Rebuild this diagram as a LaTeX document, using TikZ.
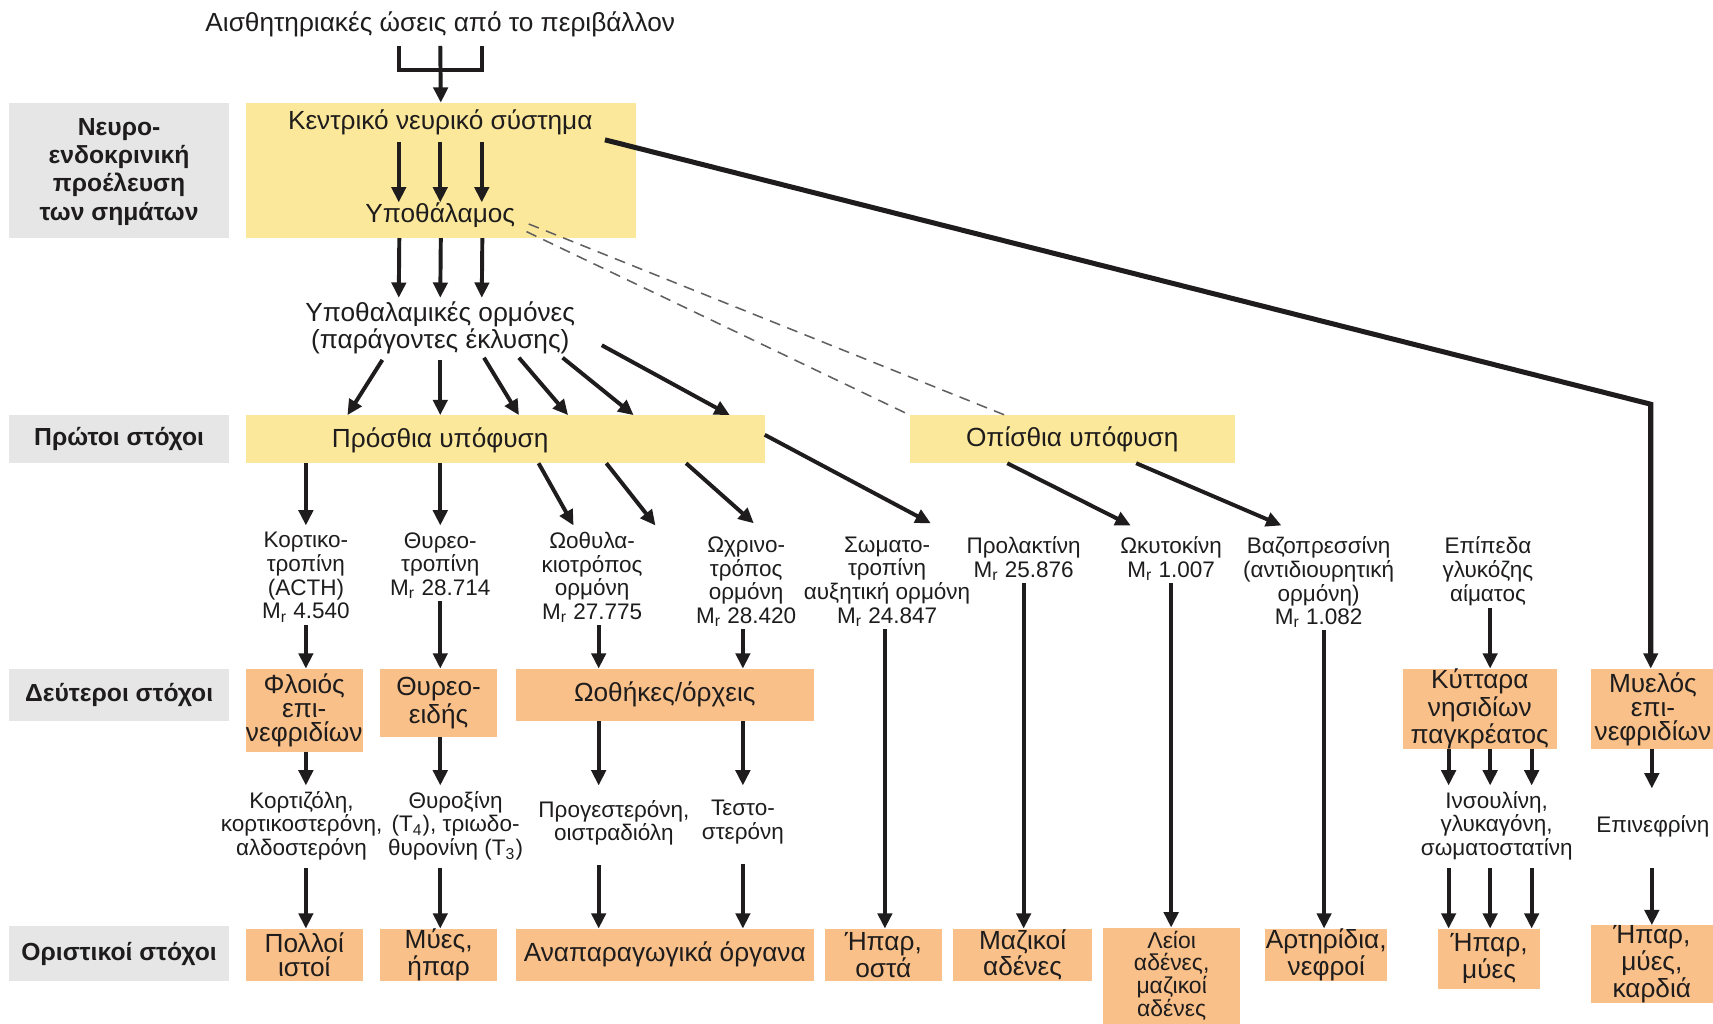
\documentclass[tikz,border=0pt]{standalone}
\usepackage{fontspec}
\setmainfont{Liberation Sans}
\usetikzlibrary{arrows.meta}
\definecolor{ylw}{RGB}{252,232,155}
\definecolor{org}{RGB}{249,192,137}
\definecolor{gry}{RGB}{230,230,230}
\definecolor{ink}{RGB}{30,28,28}
\begin{document}
\begin{tikzpicture}[x=0.5pt,y=-0.5pt,
 box/.style={inner sep=0pt, outer sep=0pt, align=center, text=ink},
 ybox/.style={box, fill=ylw},
 obox/.style={box, fill=org, font=\fontsize{12}{11}\selectfont},
 gbox/.style={box, fill=gry, font=\bfseries\fontsize{11.3}{13}\selectfont},
 big/.style={inner sep=0pt, align=center, text=ink, font=\fontsize{12}{12.5}\selectfont},
 small/.style={inner sep=0pt, align=center, text=ink, font=\fontsize{10.3}{10.8}\selectfont},
 arr/.style={draw=ink, line width=1.8pt, -{Triangle[length=7pt,width=6.5pt]}},
 ln/.style={draw=ink, line width=1.8pt},
 dsh/.style={draw=ink!70, line width=0.7pt, dash pattern=on 5pt off 3.5pt}]
\useasboundingbox (0,0) rectangle (1568,937);
\fill[white] (0,0) rectangle (1568,937);
% columns
\coordinate (cA) at (280,0);
\coordinate (cB) at (403,0);
\coordinate (cC) at (548,0);
\coordinate (cD) at (680,0);
\coordinate (cE) at (810,0);
\coordinate (cF) at (937,0);
\coordinate (cG) at (1072,0);
\coordinate (cH) at (1212,0);
\coordinate (cI1) at (1326,0);
\coordinate (cI2) at (1364,0);
\coordinate (cI3) at (1402,0);
\coordinate (cJ) at (1512,0);
\coordinate (bend) at (1511,370);
% left labels
\node[gbox, minimum width=101pt, minimum height=62pt] (g1) at (109,156) {\rule{0pt}{9pt}Νευρο-\\ενδοκρινική\\προέλευση\\των σημάτων};
\node[gbox, minimum width=101pt, minimum height=22pt] (g2) at (109,402) {Πρώτοι στόχοι};
\node[gbox, minimum width=101pt, minimum height=24pt] (g3) at (109,636) {Δεύτεροι στόχοι};
\node[gbox, minimum width=101pt, minimum height=25pt] (g4) at (109,873) {Οριστικοί στόχοι};
% top
\node[big] (title) at (403,22) {Αισθητηριακές ώσεις από το περιβάλλον};
\node[ybox, minimum width=178.5pt, minimum height=62pt] (cnsbox) at (403.5,156) {};
\node[big] (cnst) at (403,112) {Κεντρικό νευρικό σύστημα};
\node[big] (hyp) at (403,197) {Υποθάλαμος};
\node[big] (hh) at (403,300) {Υποθαλαμικές ορμόνες\\(παράγοντες έκλυσης)};
\node[ybox, minimum width=237.5pt, minimum height=22pt] (ant) at (462.5,402) {};
\node[big] (antt) at (403,403) {Πρόσθια υπόφυση};
\node[ybox, big, minimum width=148.5pt, minimum height=22pt] (post) at (981.5,402) {Οπίσθια υπόφυση};
% hormones
\node[small, anchor=north] (h1) at (280,487) {Κορτικο-\\τροπίνη\\(ACTH)\\M\textsubscript{r} 4.540};
\node[small, anchor=north] (h2) at (403,487) {Θυρεο-\\τροπίνη\\M\textsubscript{r} 28.714};
\node[small, anchor=north] (h3) at (542,487) {Ωοθυλα-\\κιοτρόπος\\ορμόνη\\M\textsubscript{r} 27.775};
\node[small, anchor=north] (h4) at (683,491) {Ωχρινο-\\τρόπος\\ορμόνη\\M\textsubscript{r} 28.420};
\node[small, anchor=north] (h5) at (812,491) {Σωματο-\\τροπίνη\\αυξητική ορμόνη\\M\textsubscript{r} 24.847};
\node[small, anchor=north] (h6) at (937,491) {Προλακτίνη\\M\textsubscript{r} 25.876};
\node[small, anchor=north] (h7) at (1072,491) {Ωκυτοκίνη\\M\textsubscript{r} 1.007};
\node[small, anchor=north] (h8) at (1207,491) {Βαζοπρεσσίνη\\(αντιδιουρητική\\ορμόνη)\\M\textsubscript{r} 1.082};
\node[small, anchor=north] (h9) at (1362,491) {Επίπεδα\\γλυκόζης\\αίματος};
% second targets
\node[obox, minimum width=53.5pt, minimum height=38pt] (s1) at (278.5,650) {Φλοιός\\επι-\\νεφριδίων};
\node[obox, minimum width=53.5pt, minimum height=31.5pt] (s2) at (401.5,643.5) {Θυρεο-\\ειδής};
\node[obox, minimum width=136.5pt, minimum height=24pt] (s3) at (608.5,636) {Ωοθήκες/όρχεις};
\node[obox, minimum width=70.5pt, minimum height=37pt] (s4) at (1354.5,649) {Κύτταρα\\νησιδίων\\παγκρέατος};
\node[obox, minimum width=57pt, minimum height=37pt] (s5) at (1513,649) {Μυελός\\επι-\\νεφριδίων};
% products
\node[small, anchor=north] (p1) at (276,724) {Κορτιζόλη,\\κορτικοστερόνη,\\αλδοστερόνη};
\node[small, anchor=north] (p2) at (417,724) {Θυροξίνη\\(T\textsubscript{4}), τριωδο-\\θυρονίνη (T\textsubscript{3})};
\node[small, anchor=north] (p3) at (562,732) {Προγεστερόνη,\\οιστραδιόλη};
\node[small, anchor=north] (p4) at (680,732) {Τεστο-\\στερόνη};
\node[small, anchor=north] (p5) at (1370,724) {Ινσουλίνη,\\γλυκαγόνη,\\σωματοστατίνη};
\node[small] (p6) at (1513,756) {Επινεφρίνη};
% final targets
\node[obox, minimum width=53.5pt, minimum height=24pt] (f1) at (278.5,874) {Πολλοί\\ιστοί};
\node[obox, minimum width=53.5pt, minimum height=24pt] (f2) at (401.5,874) {Μύες,\\ήπαρ};
\node[obox, minimum width=136.5pt, minimum height=24pt] (f3) at (608.5,874) {Αναπαραγωγικά όργανα};
\node[obox, minimum width=53.5pt, minimum height=24pt] (f4) at (808.5,874) {Ήπαρ,\\οστά};
\node[obox, minimum width=64pt, minimum height=24pt] (f5) at (936,874) {Μαζικοί\\αδένες};
\node[obox, font=\fontsize{10.5}{10.4}\selectfont, minimum width=62.5pt, minimum height=44pt, anchor=north] (f6) at (1072.5,849) {Λείοι\\αδένες,\\μαζικοί\\αδένες};
\node[obox, minimum width=56pt, minimum height=24pt] (f7) at (1214,874) {Αρτηρίδια,\\νεφροί};
\node[obox, minimum width=47pt, minimum height=27.5pt] (f8) at (1363,877.5) {Ήπαρ,\\μύες};
\node[obox, minimum width=56pt, minimum height=32.5pt] (f9) at (1512,882.5) {Ήπαρ,\\μύες,\\καρδιά};
% connectors: top
\draw[ln] ([xshift=-19pt,yshift=-4pt]title.south) -- ++(0,22) -- ++(76,0) -- ++(0,-22);
\draw[arr] ([yshift=-4pt]title.south) -- (cnsbox.north);
\foreach \s in {-19,0,19}{
  \draw[arr] ([xshift=\s pt,yshift=-3pt]cnst.south) -- ([xshift=\s pt]hyp.north);
  \draw[arr] ([xshift=\s pt]cnsbox.south) -- ([xshift=\s pt,yshift=1.5pt]hh.north);
}
\draw[arr] ([xshift=-26.5pt,yshift=-2.5pt]hh.south) -- ([xshift=-72.25pt]ant.north);
\draw[arr] ([yshift=-2.5pt]hh.south) -- ([xshift=-29.75pt]ant.north);
\draw[arr] ([xshift=20pt,yshift=-1.5pt]hh.south) -- ([xshift=6.25pt]ant.north);
\draw[arr] ([xshift=36pt,yshift=-1.5pt]hh.south) -- ([xshift=28.75pt]ant.north);
\draw[arr] ([xshift=56pt,yshift=-1.5pt]hh.south) -- ([xshift=58.75pt]ant.north);
\draw[arr] ([xshift=12pt,yshift=-8pt]hh.east) -- ([xshift=102.75pt]ant.north);
\draw[dsh] ([xshift=6pt,yshift=-4pt]hyp.east) -- ([xshift=-30.75pt]post.north);
\draw[dsh] ([xshift=5pt,yshift=-7.5pt]hyp.east) -- (post.north west);
\draw[arr, line width=2.3pt] ([xshift=5.5pt,yshift=-8pt]cnst.east) -- (bend) -- (bend |- s5.north);
% pituitary to hormones
\draw[arr, shorten >=3pt] (cA |- ant.south) -- (cA |- h1.north);
\draw[arr, shorten >=3pt] (cB |- ant.south) -- (cB |- h2.north);
\draw[arr] ([xshift=15.25pt]ant.south) -- ([xshift=-8.5pt,yshift=3pt]h3.north);
\draw[arr] ([xshift=46.25pt]ant.south) -- ([xshift=29pt,yshift=3pt]h3.north);
\draw[arr] ([xshift=82.75pt]ant.south) -- ([xshift=3.5pt,yshift=6pt]h4.north);
\draw[arr] ([yshift=2pt]ant.east) -- ([xshift=20pt,yshift=6pt]h5.north);
\draw[arr] ([xshift=-29.75pt]post.south) -- ([xshift=-18.5pt,yshift=5pt]h7.north);
\draw[arr] ([xshift=29.25pt]post.south) -- ([xshift=-17pt,yshift=5pt]h8.north);
% hormones to targets
\draw[arr, shorten <=1pt] (cA |- h1.south) -- (cA |- s1.north);
\draw[arr, shorten <=1pt] (cB |- h2.south) -- (cB |- s2.north);
\draw[arr, shorten <=1pt] (cC |- h3.south) -- (cC |- s3.north);
\draw[arr, shorten <=1pt] (cD |- h4.south) -- (cD |- s3.north);
\draw[arr, shorten <=1pt] (cE |- h5.south) -- (cE |- f4.north);
\draw[arr, shorten <=1pt] (cF |- h6.south) -- (cF |- f5.north);
\draw[arr, shorten <=1pt] (cG |- h7.south) -- (cG |- f6.north);
\draw[arr, shorten <=1pt] (cH |- h8.south) -- (cH |- f7.north);
\draw[arr, shorten <=1pt] (cI2 |- h9.south) -- (cI2 |- s4.north);
% second targets to products
\draw[arr, shorten >=2.5pt] (cA |- s1.south) -- (cA |- p1.north);
\draw[arr, shorten >=2.5pt] (cB |- s2.south) -- (cB |- p2.north);
\draw[arr, shorten >=6.5pt] (cC |- s3.south) -- (cC |- p3.north);
\draw[arr, shorten >=6.5pt] (cD |- s3.south) -- (cD |- p4.north);
\foreach \c in {cI1,cI2,cI3}{
  \draw[arr, shorten >=2.5pt] (\c |- s4.south) -- (\c |- p5.north);
  \draw[arr, shorten <=3.5pt] (\c |- p5.south) -- (\c |- f8.north);
}
\draw[arr, shorten >=12pt] (cJ |- s5.south) -- (cJ |- p6.north);
% products to final
\draw[arr, shorten <=3.5pt] (cA |- p1.south) -- (cA |- f1.north);
\draw[arr, shorten <=3.5pt] (cB |- p2.south) -- (cB |- f2.north);
\draw[arr, shorten <=9pt] (cC |- p3.south) -- (cC |- f3.north);
\draw[arr, shorten <=9pt] (cD |- p4.south) -- (cD |- f3.north);
\draw[arr, shorten <=14pt] (cJ |- p6.south) -- (cJ |- f9.north);
\end{tikzpicture}
\end{document}
